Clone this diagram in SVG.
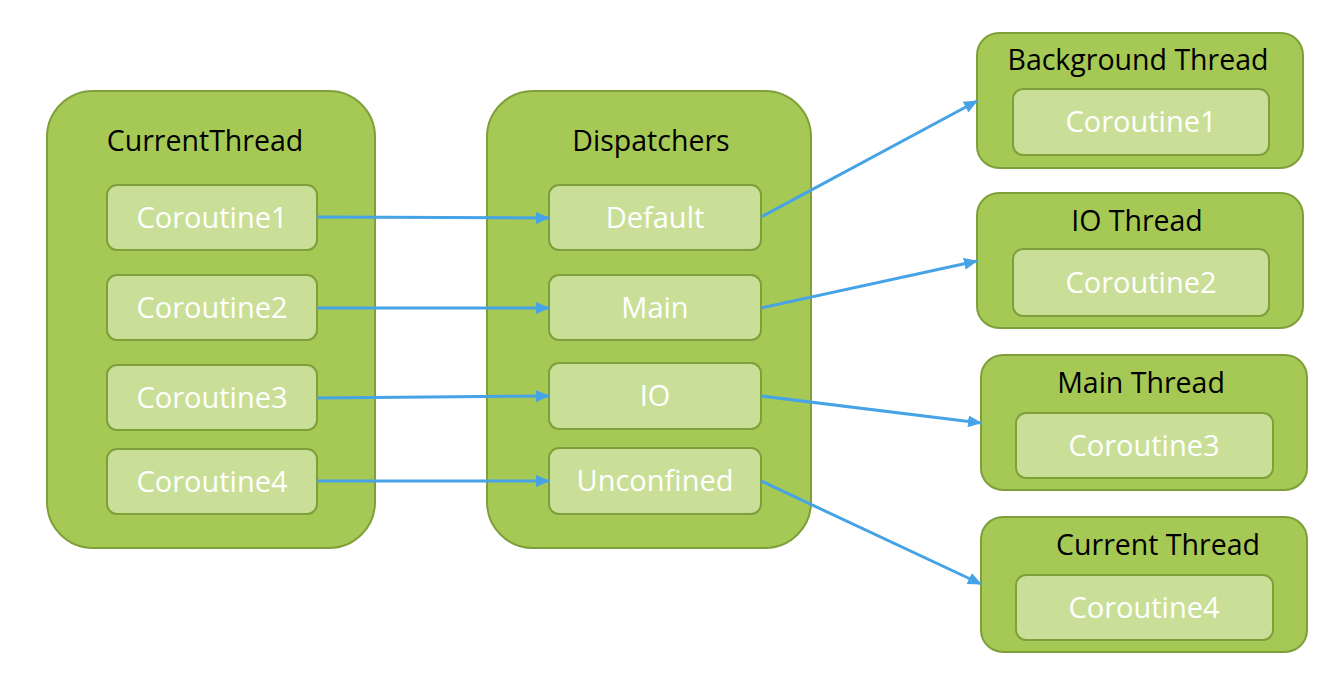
<svg xmlns="http://www.w3.org/2000/svg" width="1328" height="682" viewBox="0 0 1328 682">
<defs>
<style>
.outer{fill:#a6c854;stroke:#7f9f3b;stroke-width:2}
.inner{fill:#c9df97;stroke:#7f9f3b;stroke-width:2}
.title{font-family:"Open Sans","Liberation Sans",sans-serif;font-size:28.5px;fill:#000;text-anchor:middle}
.label{font-family:"Open Sans","Liberation Sans",sans-serif;font-size:29px;fill:#fff;text-anchor:middle}
.conn{stroke:#46a3e5;stroke-width:3;fill:none;marker-end:url(#arrow)}
</style>
<marker id="arrow" markerUnits="userSpaceOnUse" markerWidth="14" markerHeight="12" refX="13" refY="6" orient="auto">
<path d="M0,0 L14,6 L0,12 z" fill="#46a3e5"/>
</marker>
</defs>
<rect width="1328" height="682" fill="#fff"/>

<g id="current-thread">
<rect class="outer" x="47" y="91" width="328" height="457" rx="46"/>
<text class="title" x="205" y="151">CurrentThread</text>
<rect class="inner" x="107" y="185" width="210" height="65" rx="10"/>
<text class="label" x="212" y="228">Coroutine1</text>
<rect class="inner" x="107" y="275" width="210" height="65" rx="10"/>
<text class="label" x="212" y="318">Coroutine2</text>
<rect class="inner" x="107" y="365" width="210" height="65" rx="10"/>
<text class="label" x="212" y="408">Coroutine3</text>
<rect class="inner" x="107" y="449" width="210" height="65" rx="10"/>
<text class="label" x="212" y="492">Coroutine4</text>
</g>

<g id="dispatchers">
<rect class="outer" x="487" y="91" width="324" height="457" rx="46"/>
<text class="title" x="651" y="151">Dispatchers</text>
<rect class="inner" x="549" y="185" width="212" height="65" rx="10"/>
<text class="label" x="655" y="228">Default</text>
<rect class="inner" x="549" y="275" width="212" height="65" rx="10"/>
<text class="label" x="655" y="318">Main</text>
<rect class="inner" x="549" y="363" width="212" height="66" rx="10"/>
<text class="label" x="655" y="406">IO</text>
<rect class="inner" x="549" y="448" width="212" height="66" rx="10"/>
<text class="label" x="655" y="491">Unconfined</text>
</g>

<g id="background-thread">
<rect class="outer" x="977" y="33" width="326" height="135" rx="22"/>
<text class="title" x="1138" y="70">Background Thread</text>
<rect class="inner" x="1013" y="89" width="256" height="66" rx="10"/>
<text class="label" x="1141" y="132">Coroutine1</text>
</g>

<g id="io-thread">
<rect class="outer" x="977" y="193" width="326" height="135" rx="22"/>
<text class="title" x="1137" y="231">IO Thread</text>
<rect class="inner" x="1013" y="249" width="256" height="67" rx="10"/>
<text class="label" x="1141" y="293">Coroutine2</text>
</g>

<g id="main-thread">
<rect class="outer" x="981" y="355" width="326" height="135" rx="22"/>
<text class="title" x="1141" y="393">Main Thread</text>
<rect class="inner" x="1016" y="413" width="257" height="65" rx="10"/>
<text class="label" x="1144" y="456">Coroutine3</text>
</g>

<g id="current-thread-right">
<rect class="outer" x="981" y="517" width="326" height="135" rx="22"/>
<text class="title" x="1158" y="555">Current Thread</text>
<rect class="inner" x="1016" y="575" width="257" height="65" rx="10"/>
<text class="label" x="1144" y="618">Coroutine4</text>
</g>

<g id="connectors">
<line class="conn" x1="317" y1="217" x2="549" y2="218"/>
<line class="conn" x1="317" y1="308" x2="549" y2="308"/>
<line class="conn" x1="317" y1="398" x2="549" y2="396"/>
<line class="conn" x1="317" y1="481" x2="549" y2="481"/>
<line class="conn" x1="761" y1="217" x2="977" y2="101"/>
<line class="conn" x1="761" y1="308" x2="977" y2="261"/>
<line class="conn" x1="761" y1="396" x2="981" y2="423"/>
<line class="conn" x1="761" y1="481" x2="981" y2="584"/>
</g>
</svg>
